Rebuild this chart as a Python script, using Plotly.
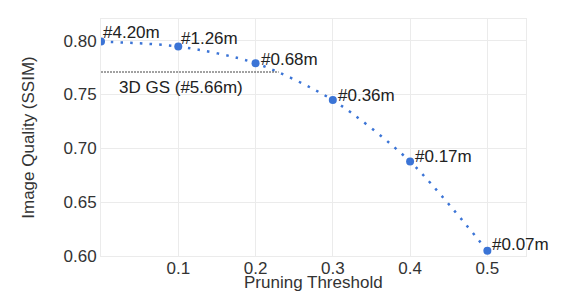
import plotly.graph_objects as go

# data
thresholds = [0.0, 0.1, 0.2, 0.3, 0.4, 0.5]
ssim = [0.799, 0.7945, 0.779, 0.7447, 0.6877, 0.6049]
labels = ["#4.20m", "#1.26m", "#0.68m", "#0.36m", "#0.17m", "#0.07m"]
baseline_ssim = 0.7708
baseline_label = "3D GS (#5.66m)"
baseline_x_end = 0.23
x_ticks = [0.1, 0.2, 0.3, 0.4, 0.5]
y_ticks = [0.60, 0.65, 0.70, 0.75, 0.80]

# style
label_dy = [9, 8, 4, 5, 5, 6]
label_dx = [0, 1, 3, 3, 3, 3]
blue = "#3b74d6"
font_family = "Liberation Sans, Arial, sans-serif"
fs = 17

fig = go.Figure()
fig.add_trace(go.Scatter(
    x=thresholds, y=ssim, mode="lines",
    line=dict(color=blue, width=2.5, dash="2.5px,7.2px", shape="spline", smoothing=0.8),
    hoverinfo="skip", showlegend=False,
))
fig.add_trace(go.Scatter(
    x=thresholds, y=ssim, mode="markers",
    marker=dict(color=blue, size=8),
    showlegend=False,
))
fig.add_trace(go.Scatter(
    x=[0, baseline_x_end], y=[baseline_ssim, baseline_ssim], mode="lines",
    line=dict(color="#444444", width=1, dash="2px,1px"),
    showlegend=False, hoverinfo="skip",
))

for xv, yv, t, dx, dy in zip(thresholds, ssim, labels, label_dx, label_dy):
    fig.add_annotation(x=xv, y=yv, text=t, showarrow=False,
                       xanchor="left", yanchor="middle", xshift=dx, yshift=dy,
                       font=dict(size=fs, color="#222222", family=font_family))

fig.add_annotation(x=baseline_x_end / 2 - 0.012, y=baseline_ssim, text=baseline_label,
                   showarrow=False, xanchor="center", yanchor="top", yshift=-4,
                   font=dict(size=fs, color="#222222", family=font_family))

fig.add_annotation(x=0.5, xref="paper", y=0, yref="paper", text="Pruning Threshold",
                   showarrow=False, xanchor="center", yanchor="middle", yshift=-26,
                   font=dict(size=fs, color="#333333", family=font_family))

# page body has an 8px margin: figure sized/offset to compensate
fig.update_layout(
    width=560, height=288,
    margin=dict(l=93, r=42, t=11, b=40),
    paper_bgcolor="white", plot_bgcolor="white",
    font=dict(family=font_family, size=fs, color="#333333"),
)
fig.update_xaxes(
    range=[0, 0.55], tickvals=x_ticks, ticktext=[f"{v:.1f}" for v in x_ticks],
    showgrid=True, gridcolor="#ebebeb", gridwidth=1,
    showline=True, linecolor="#ebebeb", linewidth=1, mirror=True,
    zeroline=False, ticks="", ticklabelstandoff=-3,
    tickfont=dict(size=fs, color="#333333"),
)
fig.update_yaxes(
    range=[0.60, 0.82], tickvals=y_ticks, ticktext=[f"{v:.2f}" for v in y_ticks],
    showgrid=True, gridcolor="#ebebeb", gridwidth=1,
    showline=True, linecolor="#ebebeb", linewidth=1, mirror=True,
    zeroline=False, ticks="",
    title=dict(text="Image Quality (SSIM)", standoff=24, font=dict(size=fs, color="#333333")),
    tickfont=dict(size=fs, color="#333333"),
)

fig.write_html("out.html")
